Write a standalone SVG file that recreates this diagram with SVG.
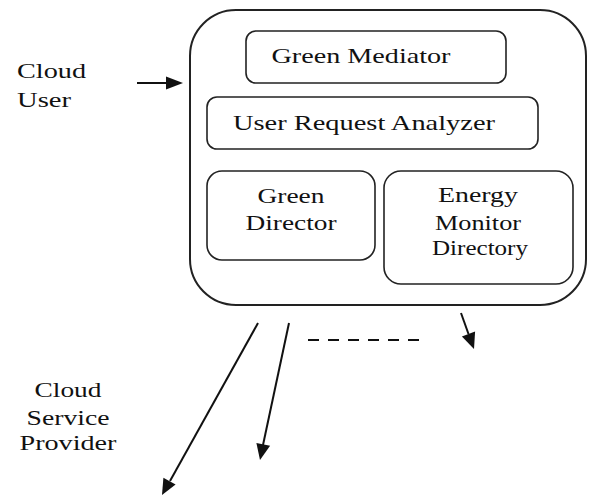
<svg xmlns="http://www.w3.org/2000/svg" width="589" height="498" viewBox="0 0 589 498">
  <style>
    .box { fill: #fff; stroke: #222; stroke-width: 1.6; }
    .outer { fill: #fff; stroke: #222; stroke-width: 2; }
    .t { font-size: 21px; fill: #111; }
    .mid { text-anchor: middle; }
    .edge { stroke: #111; stroke-width: 2; fill: none; }
    .dash { stroke: #111; stroke-width: 2; stroke-dasharray: 11 9; fill: none; }
    .head { fill: #111; stroke: none; }
  </style>

  <rect width="589" height="498" fill="#fff"/>

  <g font-family="Liberation Serif, Times New Roman, Times, Noto Serif, DejaVu Serif, FreeSerif, Tinos, serif">
    <!-- side labels -->
    <g id="cloud-user">
      <text class="t" x="17" y="78" textLength="69" lengthAdjust="spacingAndGlyphs">Cloud</text>
      <text class="t" x="17" y="107" textLength="54" lengthAdjust="spacingAndGlyphs">User</text>
    </g>

    <g id="cloud-service-provider">
      <text class="t mid" x="68" y="397" textLength="67" lengthAdjust="spacingAndGlyphs">Cloud</text>
      <text class="t mid" x="68" y="425" textLength="83" lengthAdjust="spacingAndGlyphs">Service</text>
      <text class="t mid" x="68" y="450" textLength="97" lengthAdjust="spacingAndGlyphs">Provider</text>
    </g>

    <!-- broker container -->
    <g id="green-broker">
      <rect class="outer" x="190" y="10" width="396" height="295" rx="46" ry="46"/>
    </g>

    <g id="green-mediator">
      <rect class="box" x="246" y="31" width="260" height="52" rx="10" ry="10"/>
      <text class="t mid" x="361" y="63" textLength="179" lengthAdjust="spacingAndGlyphs">Green Mediator</text>
    </g>

    <g id="user-request-analyzer">
      <rect class="box" x="207" y="97" width="331" height="52" rx="10" ry="10"/>
      <text class="t mid" x="364" y="130" textLength="262" lengthAdjust="spacingAndGlyphs">User Request Analyzer</text>
    </g>

    <g id="green-director">
      <rect class="box" x="207" y="171" width="168" height="89" rx="15" ry="15"/>
      <text class="t mid" x="291" y="203" textLength="67" lengthAdjust="spacingAndGlyphs">Green</text>
      <text class="t mid" x="291" y="230" textLength="91" lengthAdjust="spacingAndGlyphs">Director</text>
    </g>

    <g id="energy-monitor-directory">
      <rect class="box" x="384" y="171" width="189" height="113" rx="17" ry="17"/>
      <text class="t mid" x="478" y="202" textLength="80" lengthAdjust="spacingAndGlyphs">Energy</text>
      <text class="t mid" x="478" y="230" textLength="86" lengthAdjust="spacingAndGlyphs">Monitor</text>
      <text class="t mid" x="480" y="255" textLength="96" lengthAdjust="spacingAndGlyphs">Directory</text>
    </g>
  </g>

  <!-- connectors: shafts end at the base of their filled heads -->
  <g id="connectors">
    <line class="edge" x1="137" y1="83" x2="168" y2="83"/>
    <polygon class="head" points="166,76.5 183,83 166,89.5"/>

    <line class="edge" x1="258" y1="323" x2="170" y2="481"/>
    <polygon class="head" points="175.6,484.6 162,495 163.4,477.8"/>

    <line class="edge" x1="289" y1="323" x2="263" y2="445"/>
    <polygon class="head" points="270.1,445.8 260,460 256.4,442.9"/>

    <line class="dash" x1="308" y1="340" x2="419" y2="340"/>

    <line class="edge" x1="461" y1="313" x2="468.5" y2="334"/>
    <polygon class="head" points="475.1,331.6 474,349 461.9,336.4"/>
  </g>
</svg>
